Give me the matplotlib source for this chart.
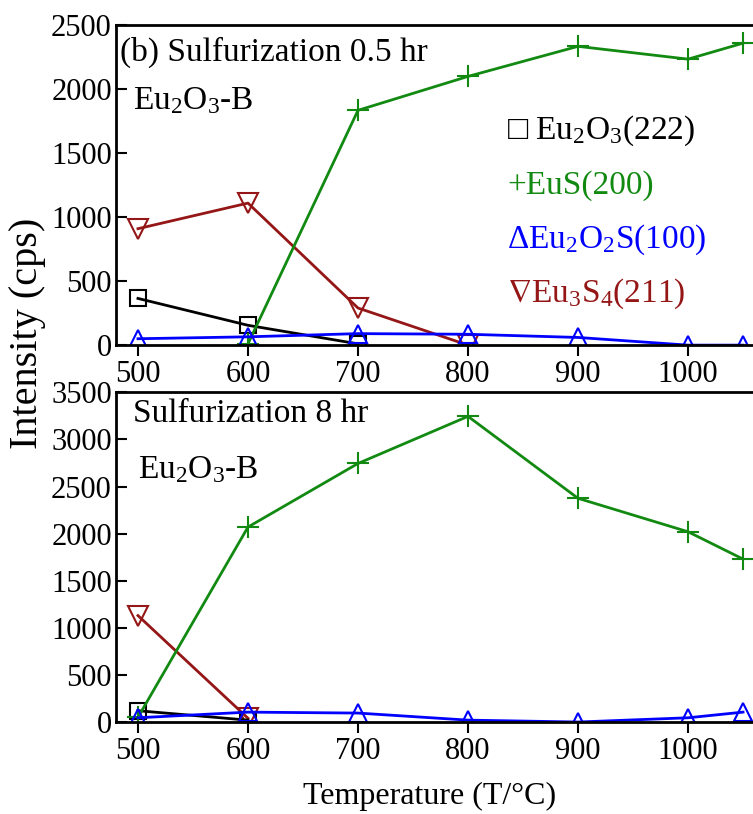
import matplotlib
matplotlib.use('Agg')
import matplotlib.pyplot as plt

plt.rcParams['font.family'] = ['Liberation Serif', 'DejaVu Serif']
plt.rcParams['mathtext.fontset'] = 'custom'
plt.rcParams['mathtext.rm'] = 'Liberation Serif'
plt.rcParams['mathtext.it'] = 'Liberation Serif:italic'
plt.rcParams['mathtext.fallback'] = 'stix'
plt.rcParams['font.size'] = 22

# 0.5 hr sulfurization
t_oxide_a = [500, 600, 700]
oxide_a = [365, 155, 10]
t_eus_a = [600, 700, 800, 900, 1000, 1050]
eus_a = [10, 1835, 2100, 2335, 2235, 2360]
t_oxs_a = [500, 600, 700, 800, 900, 1000, 1050]
oxs_a = [50, 65, 90, 85, 60, 0, 0]
t_eu3s4_a = [500, 600, 700, 800]
eu3s4_a = [910, 1110, 290, 0]

# 8 hr sulfurization
t_oxide_b = [500, 600]
oxide_b = [120, 20]
t_eus_b = [500, 600, 700, 800, 900, 1000, 1050]
eus_b = [50, 2070, 2745, 3245, 2375, 2020, 1730]
t_oxs_b = [500, 600, 700, 800, 900, 1000, 1050]
oxs_b = [45, 105, 95, 20, 0, 45, 105]
t_eu3s4_b = [500, 600]
eu3s4_b = [1130, 40]

xticks = [500, 600, 700, 800, 900, 1000]

c_black = 'black'
c_green = '#128a12'
c_blue = '#0000ff'
c_red = '#951616'

fig = plt.figure(figsize=(7.53, 8.14), dpi=100)
ax1 = fig.add_axes([0.154, 0.576, 0.862, 0.393])
ax2 = fig.add_axes([0.154, 0.113, 0.862, 0.405])

def draw(ax, sets):
    for t, v, c, m, ms in sets:
        ax.plot(t, v, color=c, marker=m, ms=ms, mfc='none', mec=c, mew=1.5, lw=2)
    ax.set_xlim(480, 1070)
    ax.set_xticks(xticks)
    ax.tick_params(axis='x', direction='out', length=8, width=1.5, pad=3)
    ax.tick_params(axis='y', direction='in', length=8, width=1.5, pad=3)
    for s in ax.spines.values():
        s.set_linewidth(2)

# red drawn first so the black squares sit on top
draw(ax1, [
    (t_eu3s4_a, eu3s4_a, c_red, 'v', 14),
    (t_oxide_a, oxide_a, c_black, 's', 11),
    (t_eus_a, eus_a, c_green, '+', 16),
    (t_oxs_a, oxs_a, c_blue, '^', 13),
])
ax1.set_ylim(0, 2500)
ax1.set_yticks([0, 500, 1000, 1500, 2000, 2500])

draw(ax2, [
    (t_eu3s4_b, eu3s4_b, c_red, 'v', 14),
    (t_oxide_b, oxide_b, c_black, 's', 11),
    (t_eus_b, eus_b, c_green, '+', 16),
    (t_oxs_b, oxs_b, c_blue, '^', 13),
])
ax2.set_ylim(0, 3500)
ax2.set_yticks([0, 500, 1000, 1500, 2000, 2500, 3000, 3500])

ax1.text(0.006, 0.915, '(b) Sulfurization 0.5 hr', transform=ax1.transAxes, va='center', fontsize=24)
ax1.text(0.027, 0.765, 'Eu$_2$O$_3$-B', transform=ax1.transAxes, va='center', fontsize=24)
ax2.text(0.027, 0.935, 'Sulfurization 8 hr', transform=ax2.transAxes, va='center', fontsize=24)
ax2.text(0.034, 0.765, 'Eu$_2$O$_3$-B', transform=ax2.transAxes, va='center', fontsize=24)

legend_items = [
    ('\u25a1 Eu$_2$O$_3$(222)', c_black, 0.67),
    ('+EuS(200)', c_green, 0.50),
    ('\u0394Eu$_2$O$_2$S(100)', c_blue, 0.33),
    ('$\\nabla$Eu$_3$S$_4$(211)', c_red, 0.16),
]
for label, c, y in legend_items:
    ax1.text(0.603, y, label, color=c, transform=ax1.transAxes, va='center', fontsize=24)

fig.text(0.037, 0.59, 'Intensity (cps)', rotation=90, va='center', ha='center', fontsize=29)
fig.text(0.57, 0.022, 'Temperature (T/\u00b0C)', va='center', ha='center', fontsize=23)

fig.savefig('out.png', dpi=100)
